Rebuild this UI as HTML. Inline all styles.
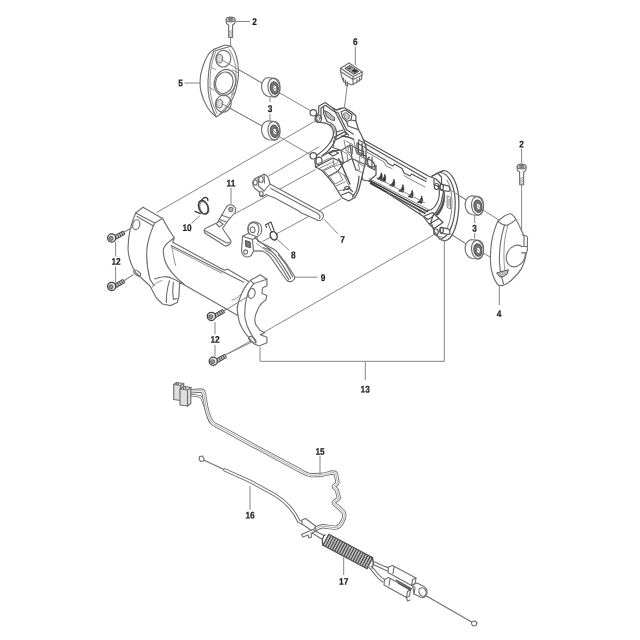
<!DOCTYPE html>
<html lang="en">
<head>
<meta charset="utf-8">
<title>Parts diagram</title>
<style>
html,body{margin:0;padding:0;background:#fff;}
body{width:640px;height:640px;overflow:hidden;}
svg{display:block;}
.l{fill:none;stroke:#707070;stroke-width:1.15;stroke-linecap:round;stroke-linejoin:round;}
.t{fill:none;stroke:#888;stroke-width:0.9;stroke-linecap:round;stroke-linejoin:round;}
.w{fill:#fff;stroke:#707070;stroke-width:1.15;stroke-linecap:round;stroke-linejoin:round;}
.g{fill:#e9e9e9;stroke:#4a4a4a;stroke-width:1;stroke-linejoin:round;}
#frame13 .l,#frame13 .w{stroke:#555;stroke-width:1.2;}
#frame13 .t{stroke:#777;stroke-width:0.9;}
.ld{fill:none;stroke:#858585;stroke-width:1;}
text{font-family:"Liberation Sans",Arial,sans-serif;font-weight:bold;font-size:100px;fill:#1c1c1c;stroke:#1c1c1c;stroke-width:2.2;text-anchor:middle;}
</style>
</head>
<body>
<svg width="640" height="640" viewBox="0 0 640 640">
<defs><filter id="gs" x="0" y="0" width="640" height="640" filterUnits="userSpaceOnUse"><feGaussianBlur stdDeviation="0.3"/></filter></defs>
<rect width="640" height="640" fill="#fff"/>
<g>
<!-- 05_lines.svg -->
<g id="longlines" class="ld">
<path d="M156.500 212.600L318 119.400"/>
<path d="M263 332.800L437 233"/>
<path d="M123.400 232.500L133 227M123.400 281L133.500 274.700"/>
<path d="M223 311L249.500 295.500M225.300 355L252.700 341.600"/>
</g>
<g id="leverlines" class="ld">
<path d="M235 213.700L315.600 169.500"/>
<path d="M268.400 176.200L319.500 146.600"/>
<path d="M262.300 241.600L341.400 198.700"/>
</g>
<g id="axisA" class="ld">
<path d="M221 59.500L262 83"/>
<path d="M220.500 103L262 126"/>
<path d="M279 92.500L311 111"/>
<path d="M279 136.500L310 154.500"/>
</g>
<g id="axisB" class="ld">
<path d="M450 189.800L465.500 199.500"/>
<path d="M450 233.600L465.500 243.500"/>
<path d="M482.500 209.700L499 220"/>
<path d="M482.500 252.500L490 257"/>
</g>

<!-- 10_plate5.svg -->
<g id="screw2a">
<path class="ld" d="M230.600 38V46"/>
<path class="w" d="M226.200 19.500V22.500C226.200 24 228 24.500 228.600 25V37.500H232.600V25C233.200 24.500 235 24 235 22.500V19.500"/>
<ellipse class="w" cx="230.600" cy="19.500" rx="4.400" ry="2.400"/>
<ellipse cx="230.600" cy="19.500" rx="2.600" ry="1.400" fill="#888" stroke="#555" stroke-width="0.600"/>
<path class="t" d="M228.600 31.500L232.600 30.500M228.600 33.500L232.600 32.500M228.600 35.500L232.600 34.500M228.600 37.500L232.600 36.500"/>
</g>
<g id="plate5">
<path class="w" d="M225 45L231.250 46.250C234 49.500 235.500 52.500 236.250 56.250C237.800 61 238.500 66 238.500 71.250C238.600 75 238.300 79 237.500 82.500C236.500 88.500 235 94 232.500 98.750C230.500 103 228 107 225 110C222.500 112.800 219.500 115.200 216.250 117C213 114.500 210 111.500 207.500 107.500C204.800 103 202.500 98 201.250 92.500C200.400 89.500 200 86 200 82.500C200 77.500 200.800 72.500 202.500 67.500C204 62.500 206 58 208.750 53.750C210.300 52 212 50.500 213.750 49.400Z"/>
<path class="l" d="M213.750 51.250C211.300 57.500 209.500 64 208.750 71.250C208 77.500 207.800 84 208.100 90C208.500 95.500 209.500 100.500 211.250 105C212.500 109.500 214.300 113.500 216.250 116.500"/>
<path class="t" d="M215.500 52.500C213 58.500 211.200 65 210.600 71.250C210 77.500 209.800 84 210.200 90C210.700 95.500 211.700 100.500 213.300 105L217 113.500"/>
<path class="l" d="M213.750 51.250L226.250 47.500L231.250 46.250"/>
<path class="t" d="M229.500 49.500C232.500 54 234.500 60 235.500 66C236.300 71 236.300 77 235.500 82.500C234.500 89 232.500 95 230 100C227.500 105 224 109.500 220 113"/>
<ellipse class="l" cx="223.300" cy="58.700" rx="7.500" ry="8.300" transform="rotate(12 223.300 58.700)"/>
<ellipse cx="219.600" cy="58.700" rx="3" ry="4.200" fill="#ddd" stroke="#666" stroke-width="1"/>
<ellipse class="l" cx="225" cy="82.500" rx="10.600" ry="13.300" transform="rotate(18 225 82.500)"/>
<ellipse class="l" cx="224.300" cy="82.800" rx="8.600" ry="11" transform="rotate(18 224.300 82.800)"/>
<ellipse class="l" cx="223.300" cy="103.700" rx="7.800" ry="8.600" transform="rotate(12 223.300 103.700)"/>
<ellipse cx="219.600" cy="103.700" rx="3" ry="4.200" fill="#ddd" stroke="#666" stroke-width="1"/>
<path class="t" d="M211.250 67.500L215.600 69.400M209.400 87.500L213.750 90M232.500 70L237.500 72.500M231.250 95L235 92.500"/>
</g>
<path class="ld" d="M221.500 59.800L262 83M221.500 103.500L262 126"/>
<g id="bush3a">
<g id="bushshape">
<path class="w" d="M268.700 77.700C264.500 77.500 261.600 81.500 261.500 86.300C261.500 91.500 264.500 96 268.700 96.500L274.400 96.900C278 96.500 280.200 92 280 86.500C279.800 82 277.500 78.800 275 78.300Z"/>
<ellipse class="l" cx="273.900" cy="87.600" rx="5.900" ry="9.300" transform="rotate(-8 273.900 87.600)"/>
<ellipse cx="274.300" cy="88" rx="4" ry="6.300" transform="rotate(-8 274.300 88)" fill="#777" stroke="#505050" stroke-width="1"/>
<ellipse cx="274.800" cy="88.300" rx="2.100" ry="3.300" transform="rotate(-8 274.800 88.300)" fill="#fff" stroke="#505050" stroke-width="0.800"/>
<path d="M273.500 87.500L276 89.500" stroke="#666" stroke-width="0.800" fill="none"/>
</g>
<use href="#bushshape" transform="translate(0 43.200)"/>
</g>

<!-- 20_frame.svg -->
<g id="frame13">
<!-- right flange disc -->
<path class="w" d="M443.600 170.500C452 171 458.700 185 458.900 202C459.100 222 453 239.800 445 240.800L440 239.500L434 231L431 222L436 205L430.500 181L432.200 176Z"/>
<path class="l" d="M440.500 172.500C449 173.500 455 186.500 455.200 202C455.400 220 450 236 442 238.500"/>
<path class="t" d="M447 180C450.500 186 452 194 452 203C452 213 450 223 446.500 229"/>
<!-- main body -->
<path class="w" d="M358.400 137L428.700 176.300L436 179L441 184L443.500 192L441 203L437 211L432 217L428 219.500L423.500 216.500L369 181L363 180L361.400 175Z"/>
<!-- lower lug & left bracket -->
<path class="w" d="M318.700 106.200L325.200 102.400L333.400 108.400L336.700 110L341.100 108.400L344.400 107.800L352 112.200L355.900 116L355.900 121L358.600 129.700L361.900 136.300L366 146L366 160L362.500 174.500L361 181L358.600 190.500L355 197.500L348.700 201L342.500 198L340 194.500L334 184.700L327.800 176.900L321.900 170.500L315.600 167L314.800 160.600L317.200 155C322 151.500 326 148 329 144C332.500 139.500 333.800 135 333.400 131.700C332.500 126 329 124 325 123.200L317.500 122L315.600 118L318.700 112.500Z"/>
<!-- pegs -->
<circle class="w" cx="313.300" cy="112.800" r="3.200"/>
<circle class="w" cx="313.300" cy="155.800" r="3.200"/>
<ellipse class="l" cx="318.300" cy="118.600" rx="3.200" ry="3.800"/>
<ellipse class="t" cx="318.300" cy="118.600" rx="1.600" ry="2"/>
<ellipse class="l" cx="319" cy="161" rx="3" ry="3.800"/>
<!-- bracket inner lines -->
<path class="l" d="M321 108V118M321 108L325.500 105.300L333.400 111L336.700 112.500M323.600 107.300V113.500L327 121.500"/>
<path d="M324.700 110.600L328.500 112.500L334.500 117.500L334.500 120.500L331.500 120L326.500 116.500Z" fill="#bbb" stroke="#4a4a4a" stroke-width="0.900" stroke-linejoin="round"/>
<path class="l" d="M333.400 108.400L341.100 123.200L345.500 132L348.800 135.200M337.800 112.200L346.600 129.700L353.100 134.100M336.700 110L341.100 108.400"/>
<!-- switch box -->
<path class="l" d="M341.100 111.800L345.500 110L352 114.400L351 120L346.600 121.500L342.800 117.700Z"/>
<path d="M343.500 113.500L346 112.500L349.500 115L349 118.500L346.500 119.500L344.500 117.500Z" fill="#ccc" stroke="#4a4a4a" stroke-width="0.700" stroke-linejoin="round"/>
<path class="l" d="M346.600 121.500L348 126L358.600 129.700M351 120L355.900 121"/>
<!-- arch second line -->
<path class="l" d="M327 121.500C332.500 123 336 126.500 336.500 132C337 139 333 146 327.500 151.500L322 156"/>
<path class="t" d="M330.500 124.500C334 127 335 130 335 133.500"/>
<!-- structure under arch -->
<path class="l" d="M334 137.400L344.400 131.900L346.600 134.100L336.200 139.600ZM336.500 132L343 130"/>
<path d="M341.100 136.300C345 136 350 137.500 354.200 139.600" fill="none" stroke="#4a4a4a" stroke-width="1.500"/>
<path class="l" d="M334 140L333 147.500L341 150.500L350 145L364 152M341 150.500L343.500 163L338 171L327.800 176.900"/>
<path class="l" d="M322 156L333 150.500L341 150.500M329 153.500L335 151L338.500 153L333 156Z"/>
<path class="l" d="M315.600 167L333 158L343.500 163L352 158.500L364 164"/>
<path class="t" d="M321.900 170.500L338 162.500M344 175L347.500 183L350.500 188"/>
<path class="l" d="M350 145L352 158.500L356 170M359 176L358.500 181.500L356.500 190.500L352.500 197"/>
<path class="t" d="M344 140L346 150L352 158.500M354 140.500L356 152L364 156"/>
<path class="t" d="M324 171L329 176L338 171.500L333.500 166.500ZM329 176L335 184L343 180L338 171.500"/>
<path class="t" d="M352 158.500L358 161.500L359.500 170L356 170"/>
<path class="l" d="M343.500 190.500L349 188L352.500 191.500M341.500 195L349 192L354 196"/>
<ellipse class="l" cx="346.900" cy="188" rx="2.200" ry="1.500"/>
<path class="t" d="M341 150.500L347 153.500L348 162M333 158L334 166.500L343.500 163M327.800 176.900L338 171L348 178M356 170L363.500 173"/>
<path d="M338.700 158.700L343 168L347 177.500L350 184" fill="none" stroke="#4a4a4a" stroke-width="1.400" stroke-linecap="round"/>
<path class="t" d="M317.500 164L331 157.500M319 168.500L334 161.500M336 186L345 182M338.500 191L345.500 189"/>
<path class="l" d="M357 143L362 145.500V156L357 153.500Z"/>
<path class="t" d="M346 141L352.500 144.500V154M348.500 146.500L352 148.500V153.500L348.500 152Z"/>
<!-- body detail: top rails -->
<path class="l" d="M358.400 139.800L426.600 179"/>
<path class="l" d="M364 146.500L368 150L386 160.500L388 163.500L393 166L394.500 164L402 168.500L404 173L410 176L411.500 174L426 181.500"/>
<path class="t" d="M366 151.500L384 162L386 166L392 168.500M404 175.500L409 178.500L425 187"/>
<path class="l" d="M358.500 141V152L366 156V164L372 167.500L376 165.500L376 175L369 181M362 143.500L364 158M372 167.500V157"/>
<path class="t" d="M360 156L365 159V167L360 164Z"/>
<path class="l" d="M367.500 158.500L372 161C374.500 163 375.500 166 375 170L368 166.500Z"/>
<circle cx="369" cy="157.500" r="0.900" fill="#4a4a4a"/>
<!-- fins -->
<g fill="#3a3a3a" stroke="#3a3a3a" stroke-width="0.700" stroke-linejoin="round">
<path d="M381.3 172.6C381.0 175.6 379.5 177.8 377.1 179.0L381.5 180.2C382.6 178.1 382.5 175.1 381.3 172.6Z"/>
<path d="M384.8 174.2C384.5 177.2 383.0 179.4 380.6 180.6L385.0 181.8C386.1 179.7 386.0 176.7 384.8 174.2Z"/>
<path d="M393.8 179.1C393.5 182.1 392.0 184.3 389.6 185.5L394.0 186.7C395.1 184.6 395.0 181.6 393.8 179.1Z"/>
<path d="M402.9 184.6C402.6 187.6 401.1 189.8 398.7 191.0L403.1 192.2C404.2 190.1 404.1 187.1 402.9 184.6Z"/>
<path d="M412.1 190.2C411.8 193.2 410.3 195.4 407.9 196.6L412.3 197.8C413.4 195.7 413.3 192.7 412.1 190.2Z"/>
<path d="M421.6 195.8C421.3 198.8 419.8 201.0 417.4 202.2L421.8 203.4C422.9 201.3 422.8 198.3 421.6 195.8Z"/>
</g>
<path class="t" d="M376.700 177.700L424.500 202.600"/>
<!-- lower rails -->
<path d="M369.500 180.300L428 211.800" fill="none" stroke="#3a3a3a" stroke-width="1.500"/><path d="M370 183L425.500 213.500" fill="none" stroke="#3a3a3a" stroke-width="1.600"/>
<path class="t" d="M369 178.500L429 210M386.600 192.500L417.500 209.400L421 214"/>
<!-- right end interior -->
<path d="M443.800 190C444.800 198 441.800 208 435.800 214.500L437.800 215.200C444.200 208 446 198 443.800 190Z" fill="#4a4a4a" stroke="#4a4a4a" stroke-width="0.700"/>
<path class="l" d="M425 211C430 211 434 208.500 436.500 204C439.500 198.500 440 192 438.500 186.500"/>
<path class="l" d="M423.500 216.500L432.500 212.500L439 218.500L429 224ZM429 224L434 228.500L443 222.500L439 218.500"/>
<path class="l" d="M432.200 176L437.500 173L441.500 177L441.500 184M437.500 173L443.600 170.500M434 179V184.500L438 186.500"/>
<!-- right pegs -->
<path class="w" d="M441 184.200L448 185.800C450 186.500 450.500 190 449 191.500L442 190.300C440 189.500 439.500 186 441 184.200Z"/>
<ellipse class="l" cx="441.500" cy="187.200" rx="1.800" ry="3"/>
<path class="w" d="M441 227.300L448 228.800C450 229.500 450.500 233 449 234.500L442 233.300C440 232.500 439.500 229 441 227.300Z"/>
<ellipse class="l" cx="441.500" cy="230.300" rx="1.800" ry="3"/>
<ellipse class="l" cx="436.500" cy="186.500" rx="2.300" ry="3"/>
<ellipse class="l" cx="436" cy="232" rx="2.300" ry="3"/>
<path class="t" d="M447.500 196L450.500 197.500V209L447.500 207.500ZM449 199V206"/>
<path class="t" d="M432 226L436 236L442 239.500M438 236.500L444 237.500"/>
</g>

<!-- 30_right.svg -->
<g id="switch6">
<path class="ld" d="M347.500 83L344.400 108"/>
<path class="w" d="M340.500 68.300L349 63.100L362.300 71.900L361.500 79L353 84.500L351.400 84.700L343.600 81.600L341.500 76L340.500 71.500Z"/>
<path class="l" d="M340.500 68.300L353 76.600L362.300 71.900M353 76.600V84.500M340.500 71.400L353 79.600L362 75.200"/>
<path d="M344.800 68.300L349.800 65.500L358.800 71.400L353.700 74.300Z" fill="#aaa" stroke="#444" stroke-width="0.900" stroke-linejoin="round"/>
<path d="M351.300 70.600L354.500 68.900L357.700 71L354.500 72.900Z" fill="#333"/>
<path d="M347 68.300L349.600 66.900L351.800 68.300L349.200 69.800Z" fill="#555"/>
<path class="l" d="M343.600 78V81.600M345.500 80V85L347.500 86V82M357 79.500V82.500M359.500 78V81"/>
</g>
<g id="screw2b">
<path class="ld" d="M521.600 185V243"/>
<path class="w" d="M517.200 166.500V169.500C517.200 171 519 171.500 519.600 172V184.700H523.600V172C524.200 171.500 526 171 526 169.500V166.500"/>
<ellipse class="w" cx="521.600" cy="166.500" rx="4.400" ry="2.400"/>
<ellipse cx="521.600" cy="166.500" rx="2.600" ry="1.400" fill="#888" stroke="#555" stroke-width="0.600"/>
<path class="t" d="M519.600 178.500L523.600 177.500M519.600 180.500L523.600 179.500M519.600 182.500L523.600 181.500M519.600 184.500L523.600 183.500"/>
</g>
<path class="ld" d="M450 189.800L465.500 199.500M450 233.600L465.500 243.500"/>
<g id="bush3b">
<use href="#bushshape" transform="translate(203.600 118.200)"/>
<use href="#bushshape" transform="translate(203.600 162)"/>
</g>
<g id="cover4">
<path class="w" d="M497.800 221.200L504 216.300C506.500 214.500 508.500 213.700 510.400 213.800C512.500 214.200 514.300 216.500 515.700 219C518 222.500 519.500 226 521 229.600C523 233.500 524.500 237 525.200 240.200C526.200 244.500 526.500 249 526.300 252.800C525.800 258 524.300 263 522 267.600C519.800 271.500 517 275 513.600 278C510.500 281.500 507 284 503 285.500L498.800 285.500C496 283 494 279 492.500 274C491 269.500 490.300 264 490.400 259C490.400 253 490.700 247.500 491.500 242.300C492.200 238 493.300 233.500 494.600 229.600C495.600 226.500 496.700 223.700 497.800 221.200Z"/>
<path class="l" d="M497.800 221.200C500.500 223.500 503.500 225 506.200 225.400C509.500 224.500 513 222.500 515.700 219.700M504.500 225.200C502.500 231.500 501 238 500.300 244.400C499.700 250 499.300 256 499.400 261.300C499.600 267 500.500 273 502 278.100L503.500 284"/>
<path class="t" d="M508 225C506 231.500 504.800 238 504.300 244.400C504 250 503.800 256 504 261.300L504.800 270"/>
<ellipse class="l" cx="515.800" cy="256" rx="9" ry="11.300" transform="rotate(28 515.800 256)"/>
<path class="w" d="M522.500 234.900L526.300 236C527.200 236.300 527.500 237 527.500 238L527.300 250.700C527.200 252 526.500 252.800 525.500 252.800L521.500 252.800"/>
<path class="l" d="M521.500 246.500H527.300M524 235.500V246.500"/>
<path d="M496.700 272.900L508.300 269.700L507.300 273.900L503.500 276.500L499.900 277Z" fill="#bbb" stroke="#555" stroke-width="1" stroke-linejoin="round"/>
</g>

<!-- 40_covers.svg -->
<g id="coverL">
<!-- silhouette -->
<path class="w" d="M135.600 213L143 207.200L162.500 218.400L168.700 229.400L174.200 237.700L172.700 242.300L221.900 268.900L225 270.200L227.300 269L250 282.200L241.700 293.400L237.400 306.600L237.800 315.500L179.700 282.200L178.900 296.250L177.300 302.500L170.300 305.600L162.500 304L156.250 297.800L150 286L136 273C131.500 266 128.500 258 128.100 249.700C127.800 238 131 224 135.600 213Z"/>
<path class="l" d="M135.600 213L154.700 223.100L162.500 218.400M137 216.500L153.500 226"/>
<path class="l" d="M154.700 223.100C151.500 230 147.500 241 146.900 249.700C146.300 258 147.500 270 150 279.400L154 285.600"/>
<ellipse class="l" cx="136.250" cy="224.700" rx="3.500" ry="5" transform="rotate(12 136.250 224.700)"/>
<ellipse class="l" cx="137.200" cy="273.100" rx="4" ry="2" transform="rotate(38 137.200 273.100)"/>
<path class="l" d="M174.200 237.700L170.300 240.800C166 244 163 248 163.300 251C163.500 254.500 164 257.500 164.800 260.300C166.500 265.500 170 270.500 173.400 274.400C176.500 278 180.500 281.500 184.400 284.500"/>
<path class="l" d="M171.100 245.500L223.400 272L243.700 282.200"/>
<path class="t" d="M172.200 247.800L222 273.300"/>
<path class="t" d="M171.500 246C172.500 249.500 173 252.500 173.400 255.600C173.800 259 174.800 262.500 175.800 265.800"/>
<path class="l" d="M154.700 279C157.500 277.500 160.500 276.800 164 276.700C167.500 276.600 170.500 277.500 173.400 279C175.800 280 177.800 281 179.700 282.200"/>
<path class="l" d="M169.500 280.600C167.500 287 166.200 295 166.400 302.500M173.400 282.200C172.500 288 172.500 294 173.400 299.400L177 298.500"/>
<path class="t" d="M152 287.500C154.500 284 158 281.500 162 280.500"/>
<path class="ld" d="M123.400 232.500L133 227M123.400 281L133.500 274.700"/>
<!-- screws -->
<g id="scr12">
<path d="M114.800 235.600L123 231L124.900 234.200L116.600 239Z" fill="#bbb" stroke="#444" stroke-width="1" stroke-linejoin="round"/>
<path d="M117.300 234.300L119 237.500M119.300 233.200L121 236.400M121.300 232.100L123 235.300" fill="none" stroke="#444" stroke-width="0.900"/>
<circle cx="111.700" cy="238" r="4.100" fill="#e4e4e4" stroke="#444" stroke-width="1.300"/>
<circle cx="111" cy="238.400" r="2" fill="#999" stroke="#555" stroke-width="0.900"/>
</g>
<use href="#scr12" transform="translate(0 48.400)"/>
</g>
<g id="coverR">
<path class="w" d="M250.500 280.300L260.300 274.800L266.900 279.200V285.800L262.500 288L262 293.400L266.900 295.600L265.800 300C262 302.500 259.500 305.500 258.100 308.700C256 313 254.500 318 254.900 321C255.300 324 256 325.500 257 326.250L260.300 330.600L264.700 332.800L260.300 334.600L266.900 337.200V342.700L259.200 346L253.750 343.750L245 332.800C241 327 238.800 322.500 238.400 317.500C237.500 313.500 237 310.500 237.400 306.600C238.500 301.500 239.500 298 241.700 293.400C244 288 247 283.500 250.500 280.300Z"/>
<path class="l" d="M253.750 283.600C250 288 247.500 293.500 246.100 300C244.800 306 244.500 312 245 317.500C245.800 322 247 326.500 249.400 330.600L256 342.700"/>
<path class="l" d="M250.500 280.300L253.750 283.600L266.900 279.200"/>
<ellipse class="l" cx="251.600" cy="293.400" rx="3.400" ry="5" transform="rotate(15 251.600 293.400)"/>
<ellipse class="l" cx="252.300" cy="339.700" rx="4.200" ry="2.200" transform="rotate(38 252.300 339.700)"/>
<path class="t" d="M231.900 300C236 299.500 240 296 243 291.500C245 288 247 284 249.400 281.400"/>
<path class="ld" d="M224 311L249.500 295.500M225.300 355L251.500 340.500"/>
<use href="#scr12" transform="translate(99.700 78.400)"/>
<use href="#scr12" transform="translate(101.600 123.250)"/>
</g>

<!-- 50_levers.svg -->
<g id="spring10">
<ellipse cx="203.400" cy="207.300" rx="4.500" ry="7" transform="rotate(-22 203.400 207.300)" fill="none" stroke="#3c3c3c" stroke-width="1.600"/>
<ellipse cx="204.300" cy="207.900" rx="4.200" ry="6.600" transform="rotate(-22 204.300 207.900)" fill="none" stroke="#555" stroke-width="0.800"/>
<path d="M201.500 200.500C202.500 198.500 204 197.300 205.500 197.300C207.200 197.500 208 199 207.900 200.500M195 211.400L200.500 213.600" fill="none" stroke="#3c3c3c" stroke-width="1.300" stroke-linecap="round"/>
</g>
<g id="clip11">
<path class="w" d="M206.900 227.700L217.500 222.500L226.900 206.250C228.500 204.500 231.500 204.300 233.500 205.800C235.500 207.500 236 210.500 235 212.500L227.500 221.250L222.500 228.500L229.400 238.500C230.800 240 231.300 241 231 242C230.500 243.800 229 245.200 227.500 245.600C226.500 245.900 225.300 245.900 224.400 245.600L205.600 233.500C204.300 232.500 203.900 231 204.400 229.800C204.900 228.600 205.800 227.900 206.900 227.700Z" stroke-width="1.100"/>
<circle class="l" cx="230.900" cy="209.500" r="2.100"/><circle class="t" cx="230.600" cy="209.600" r="1"/>
<path class="l" d="M205.300 230.800L226.250 242.800C227.500 243.300 228.500 243 229.200 242.200M217.500 222.500L220 221.500L223.100 224.300L219.400 226.900L216.250 223.750M221.200 215L229.500 218M219 219.200L226.500 222"/>
</g>
<g id="lever7">
<path class="w" d="M252.900 181.500L254.500 179L258 177L264 174.200C266 174.500 267.500 176 268.400 178L270 184L319 210.700C322 212 323.700 214 323.400 216.500C323 218.500 322 219.700 320.800 220.200C319 220.800 317 220.500 315.600 219.300L301 212.700L298.400 210.700L274.400 197.800L266 194.500L263 196.500C261.500 197 260 196.500 259.500 195L259.500 192L255 188.500C253 186.500 252.500 183.500 252.900 181.500Z"/>
<path class="l" d="M271 188.400L317.300 213.300C319.500 214.500 320.500 216.500 319.500 218.500M264 191L270 184"/>
<ellipse class="l" cx="255.300" cy="182.500" rx="2" ry="2.600"/>
<ellipse class="l" cx="261" cy="179.500" rx="2.200" ry="3" />
<path class="l" d="M258 177L258.500 186L264 191M264 174.200L264.500 183"/>
<ellipse class="l" cx="261.300" cy="193.700" rx="1.800" ry="2.200"/>
</g>
<g id="clip8">
<path d="M266.600 227.500L265.500 224.750L271 222L274.300 231.300" fill="none" stroke="#4a4a4a" stroke-width="1.100" stroke-linejoin="round" stroke-linecap="round"/>
<path d="M268.200 224L271.300 231.500" fill="none" stroke="#4a4a4a" stroke-width="0.900" stroke-linecap="round"/>
<ellipse cx="273.700" cy="235.800" rx="3.300" ry="4.300" transform="rotate(-25 273.700 235.800)" fill="#fff" stroke="#444" stroke-width="1.500"/>
</g>
<g id="lever9">
<path class="w" d="M248.500 225.500C250 222.500 253.500 221.500 256.500 222.200C260 223.200 262 226.500 261.700 230C261.500 233.500 259 236.500 255.500 236.900L250 235C248 232.500 247.500 228.500 248.500 225.500Z"/>
<path class="l" d="M250 235C247.500 232 247.500 227 249.500 224.500C251.500 222 255 222 257 224C259.500 226.500 259.500 231.500 257.500 234.500"/>
<ellipse class="l" cx="252.600" cy="229.800" rx="2.300" ry="2.900" transform="rotate(-15 252.600 229.800)" stroke-width="1.200"/>
<path class="w" d="M242.600 236.200L248 233.500L256.800 236.800L257.900 241.200L267.700 246.100L273.200 248.800C276 250.500 278 252.800 279.800 255.400L287.400 265.200L294.500 276.200C295 277.800 294.700 278.800 294 279.500C293 280.800 292 281.300 290.700 281.600C289.200 281.800 287.800 281.300 286.900 280.500L279.800 270.700L273.200 260.900C271.500 258.500 269.800 256 267.700 254.300C266 252.800 264.200 251.700 262.300 251L253.500 251L251.300 255.400C250.300 256.500 249.200 257 248 257C246.600 257 245.300 256.700 244.200 256C242.500 254.800 241.700 253 241.500 251L242 244.400Z"/>
<path class="l" d="M242.600 236.200L252.400 239.500L256.800 236.800M252.400 239.500L253.500 251M254.600 237.900L271 250L263.400 247.700M263.400 247.700C266.500 248.300 269 249.500 271 251C273.500 252.800 275.300 254.700 276.600 256.500L284.100 267.400L290.700 278.400" stroke-width="1.100"/>
<path d="M245.300 240.500L250.200 242L250.700 247.700L245.800 246.500Z" fill="#777" stroke="#4a4a4a" stroke-width="0.900" stroke-linejoin="round"/>
<ellipse class="l" cx="245.600" cy="252" rx="1.900" ry="2.200"/>
<path class="t" d="M253.500 251L262.300 251M256 243L266 250.500"/>
<path class="l" d="M266 250.500C269.500 252 272.500 255 274.800 258L282 268.500L288.800 279.800M278.500 254.800L286 264.500L292.800 277"/>
</g>

<!-- 60_cables.svg -->
<g id="cable15">
<path d="M190.300 395L199.500 396.300C201 396.600 202 398 202.500 400L206.250 410.300C207.300 414 208.300 417.500 209.500 420.600C211 423.500 213.500 425 217 426.500" fill="none" stroke="#707070" stroke-width="2.600" stroke-linejoin="round" stroke-linecap="round"/>
<path d="M190.300 395L199.500 396.300C201 396.600 202 398 202.500 400L206.250 410.300C207.300 414 208.300 417.500 209.500 420.600C211 423.500 213.500 425 217 426.500" fill="none" stroke="#fff" stroke-width="1.100" stroke-linejoin="round" stroke-linecap="round"/>
<path d="M191.250 391.250L201 390.500C203 390.700 203.700 392 203.900 394L206.250 407.500C207.500 413 209 418 211.250 421.250C212.500 423.500 214.500 424.800 216.250 425.500L225 430L250 443.750L300 470.500C303 472.500 307 474.800 312 475.200L320 475C325 474.800 329 473 332.500 472.500C335 472.500 336.250 473.500 336.250 475.500L337.500 482.500C337.500 484.500 334 485 333.750 486.500C333.500 488 336.500 488.500 337 490.500L338.750 497.500C338.750 500 334.200 500.500 333.750 502.500C333.500 504.500 336 505 337.500 506.250L343.750 512.500C345 515 344 518.500 342.500 521.250C341 524.500 339 527 336.250 527.500C332 528.300 326 526 322.500 526.250C319.500 526.500 317 528 315 530" fill="none" stroke="#707070" stroke-width="4.3" stroke-linejoin="round" stroke-linecap="round"/>
<path d="M191.250 391.250L201 390.500C203 390.700 203.700 392 203.900 394L206.250 407.500C207.500 413 209 418 211.250 421.250C212.500 423.500 214.500 424.800 216.250 425.500L225 430L250 443.750L300 470.500C303 472.500 307 474.800 312 475.200L320 475C325 474.800 329 473 332.500 472.500C335 472.500 336.250 473.500 336.250 475.500L337.500 482.500C337.500 484.500 334 485 333.750 486.500C333.500 488 336.500 488.500 337 490.500L338.750 497.500C338.750 500 334.200 500.500 333.750 502.500C333.500 504.500 336 505 337.500 506.250L343.750 512.500C345 515 344 518.500 342.500 521.250C341 524.500 339 527 336.250 527.500C332 528.300 326 526 322.500 526.250C319.500 526.500 317 528 315 530" fill="none" stroke="#fff" stroke-width="2.600" stroke-linejoin="round" stroke-linecap="round"/>
<path d="M191.250 391.250L201 390.500C203 390.700 203.700 392 203.900 394L206.250 407.500C207.500 413 209 418 211.250 421.250C212.500 423.500 214.500 424.800 216.250 425.500L225 430L250 443.750L300 470.500C303 472.500 307 474.800 312 475.200L320 475C325 474.800 329 473 332.500 472.500C335 472.500 336.250 473.500 336.250 475.500L337.500 482.500C337.500 484.500 334 485 333.750 486.500C333.500 488 336.500 488.500 337 490.500L338.750 497.500C338.750 500 334.200 500.500 333.750 502.500C333.500 504.500 336 505 337.500 506.250L343.750 512.500C345 515 344 518.500 342.500 521.250C341 524.500 339 527 336.250 527.500C332 528.300 326 526 322.500 526.250C319.500 526.500 317 528 315 530" fill="none" stroke="#9a9a9a" stroke-width="0.800" stroke-linejoin="round" stroke-linecap="round"/>
<!-- connectors -->
<path class="w" d="M173.700 384.500L176.500 382.500L183.700 383.500V398L180.500 400.500L173.700 399.500Z" style="fill:#dedede"/>
<path class="l" d="M173.700 384.500L180.500 385.500L183.700 383.500M180.500 385.500V400.500M176.500 382.500V384.800M178.500 383V385"/>
<path class="w" d="M180 389L183.500 386.250L190.800 387.500V403.500L187.500 406L180 405Z" style="fill:#dedede"/>
<path class="l" d="M180 389L187.500 390L191.250 387.500M187.500 390V406.250M183.500 386.250V389.300M185.500 386.700V389.600"/>
</g>
<g id="cable16">
<path class="l" d="M203.700 460L225 470"/>
<path d="M225 470L250 481.250L275 495C281 498.500 286 503 290 507.500C294 512 297 517 298.750 521.250L303.750 523.750" fill="none" stroke="#666" stroke-width="3.400" stroke-linecap="round"/>
<path d="M225 470L250 481.250L275 495C281 498.500 286 503 290 507.500C294 512 297 517 298.750 521.250L303.750 523.750" fill="none" stroke="#fff" stroke-width="1.700" stroke-linecap="round"/>
<path class="w" d="M199.500 456.500L202.500 456L204 458.500L203.500 461L200.500 461.500L199 459Z"/>
<path class="w" d="M302 520L305.500 518.500L315.500 526L314.500 529.500L311.500 530.500L302 524Z"/>
<path class="w" d="M301.500 534.500L315 528.500L316.500 530.500L311 533.500L311.500 537L309 538L308 535L303 537Z"/>
</g>
<g id="spring17">
<path class="l" d="M314 530.500L324 535.500M312 533L322.500 539.500"/>
<path d="M325.500 539.500L370.500 563.500" fill="none" stroke="#444" stroke-width="13.400" stroke-linecap="butt"/>
<path d="M325.500 539.500L370.500 563.500" fill="none" stroke="#c4c4c4" stroke-width="11.400" stroke-linecap="butt"/>
<path d="M325.500 539.500L370.500 563.500" fill="none" stroke="#484848" stroke-width="11.800" stroke-dasharray="1.200 1.400"/>
<path d="M325.500 534.500C322.500 536 321.500 541 323 546M370.500 557C373.500 558 374.500 563 372 568.500" fill="none" stroke="#4a4a4a" stroke-width="1.200"/>
</g>
<g id="cableend">
<path class="l" d="M372.500 561C378 563.500 384 566.500 389 568M372.500 564C378 566.500 382 569.500 388 571M371 566C375 569 378 576 384.500 579.500M369 567.500C373 571 376 578.500 383 582"/>
<path class="w" d="M388.500 567L392.500 565.500L416 578L415 583.500L411.500 585.500L388 572.500Z"/>
<path class="l" d="M394 567L393 573.500M411.500 585.500L412.500 579.500L416 578"/>
<path class="w" d="M384.500 579.500L388.500 577.500L410.500 589.500L409.500 596L406.500 597.500L384 585Z"/>
<path class="l" d="M390 579L389 585.500M406.500 597.500L407.500 591.500L410.500 589.500M406.500 597.500L407.500 601L410 600"/>
<path d="M396 580L412 589M398 583L411 590.500" fill="none" stroke="#4a4a4a" stroke-width="1.300"/>
<path class="w" d="M412.500 585L417 583L423 586C426 587.500 427.500 590.500 427 593.500C426.500 596.500 424 598 421.500 597.500L414 594Z"/>
<ellipse class="l" cx="422.500" cy="592" rx="3.400" ry="4.300" transform="rotate(-25 422.500 592)"/>
<path class="l" d="M414 594L415 588L412.500 585M426.500 596L429 597.500"/>
<path class="l" d="M429 597.500L472.500 622.500" stroke-width="0.800"/>
<path class="w" d="M472 621.500L475 621L477 623L476 625.500L473 626L471.500 624Z"/>
</g>

<!-- 99_labels.svg -->
<g id="labels" filter="url(#gs)">
<text transform="translate(254.5 25) scale(0.083,0.096) rotate(0.2)">2</text>
<text transform="translate(180.600 86.200) scale(0.083,0.096) rotate(0.2)">5</text>
<text transform="translate(270 112) scale(0.083,0.096) rotate(0.2)">3</text>
<text transform="translate(355.3 45) scale(0.083,0.096) rotate(0.2)">6</text>
<text transform="translate(521.5 147.5) scale(0.083,0.096) rotate(0.2)">2</text>
<text transform="translate(474.5 231.5) scale(0.083,0.096) rotate(0.2)">3</text>
<text transform="translate(499 317) scale(0.083,0.096) rotate(0.2)">4</text>
<text transform="translate(342.500 242.700) scale(0.083,0.096) rotate(0.2)">7</text>
<text transform="translate(293.300 258.200) scale(0.083,0.096) rotate(0.2)">8</text>
<text transform="translate(323 281) scale(0.083,0.096) rotate(0.2)">9</text>
<text transform="translate(187 231) scale(0.083,0.096) rotate(0.2)">10</text>
<text transform="translate(231 186.500) scale(0.083,0.096) rotate(0.2)">11</text>
<text transform="translate(116 264.800) scale(0.083,0.096) rotate(0.2)">12</text>
<text transform="translate(215 342.800) scale(0.083,0.096) rotate(0.2)">12</text>
<text transform="translate(365.2 392.600) scale(0.083,0.096) rotate(0.2)">13</text>
<text transform="translate(320 454.700) scale(0.083,0.096) rotate(0.2)">15</text>
<text transform="translate(250 518.5) scale(0.083,0.096) rotate(0.2)">16</text>
<text transform="translate(343.700 584.700) scale(0.083,0.096) rotate(0.2)">17</text>
</g>
<g id="leaders" class="ld">
<path d="M236 21.5H250"/>
<path d="M184.500 83H200.500"/>
<path d="M270 97V102M270 114V120"/>
<path d="M355.300 46.500V65"/>
<path d="M521.600 149V163.500"/>
<path d="M474.700 215V223M474.700 233V238.500"/>
<path d="M499.300 286V305"/>
<path d="M324.200 219.300L338 233.900"/>
<path d="M277.500 239.500L289 250.200"/>
<path d="M295 277.200H317.500"/>
<path d="M191.500 223.500L200 215.600"/>
<path d="M231 188V204"/>
<path d="M115.600 242V256.500M115.600 266.500V282.500"/>
<path d="M215 322V334M215 345V356"/>
<path d="M260 347V361.300H444.300V240M365.300 361.300V380"/>
<path d="M320 455.500V474.500"/>
<path d="M250 486V510"/>
<path d="M343.700 557V575"/>
</g>

</g>
</svg>
</body>
</html>
